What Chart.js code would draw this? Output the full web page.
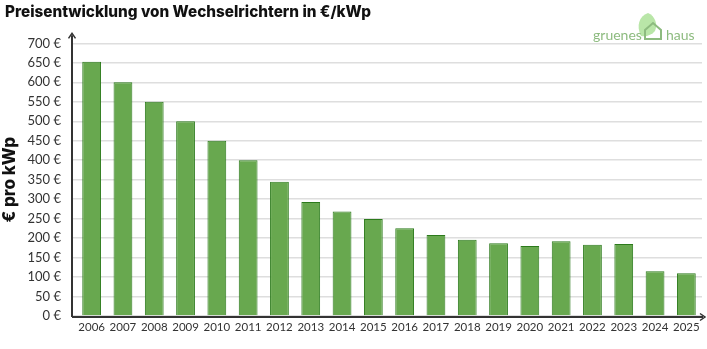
<!DOCTYPE html>
<html>
<head>
<meta charset="utf-8">
<script src="https://cdn.jsdelivr.net/npm/chart.js@4/dist/chart.umd.min.js"></script>
<style>
  html, body { margin: 0; padding: 0; background: #fff; }
  #wrap { width: 707px; height: 349px; }
</style>
</head>
<body>
<div id="wrap"><canvas id="c" width="707" height="349"></canvas></div>
<script>
const years = ['2006','2007','2008','2009','2010','2011','2012','2013','2014','2015',
               '2016','2017','2018','2019','2020','2021','2022','2023','2024','2025'];
const pricePerKwp = [653, 600, 550, 500, 450, 400, 345, 293, 268, 249,
                     225, 208, 196, 187, 180, 192, 183, 185, 115, 110];
const yTicks = [0, 50, 100, 150, 200, 250, 300, 350, 400, 450, 500, 550, 600, 650, 700];

const AXIS = '#333';
const tickFont = { family: 'Lato, "Open Sans", sans-serif', size: 13 };

// axis lines with arrow heads, plus the small logo in the corner
const decor = {
  id: 'decor',
  afterDraw(chart) {
    const ctx = chart.ctx;
    const a = chart.chartArea;
    const x0 = a.left - 4, y0 = a.bottom + 1;
    ctx.save();
    ctx.strokeStyle = AXIS;
    ctx.fillStyle = AXIS;
    ctx.lineWidth = 2;
    ctx.beginPath();
    ctx.moveTo(x0, y0);
    ctx.lineTo(x0, a.top - 8);
    ctx.moveTo(x0, y0);
    ctx.lineTo(a.right + 1, y0);
    ctx.stroke();
    ctx.lineWidth = 1.5;
    ctx.beginPath();
    ctx.moveTo(x0 - 3.5, a.top - 5);
    ctx.lineTo(x0, a.top - 10);
    ctx.lineTo(x0 + 3.5, a.top - 5);
    ctx.moveTo(a.right - 2, y0 - 3.5);
    ctx.lineTo(a.right + 3, y0);
    ctx.lineTo(a.right - 2, y0 + 3.5);
    ctx.stroke();

    // gruenes haus
    const green = '#8dbb7f';
    ctx.fillStyle = '#b9e6a8';
    ctx.beginPath();
    ctx.moveTo(641, 36);
    ctx.bezierCurveTo(636, 26, 639, 16, 648, 13);
    ctx.bezierCurveTo(655, 16, 658, 24, 655, 31);
    ctx.bezierCurveTo(652, 35, 646, 37, 641, 36);
    ctx.fill();
    ctx.strokeStyle = green;
    ctx.lineWidth = 2;
    ctx.beginPath();
    ctx.moveTo(645, 30);
    ctx.lineTo(653, 23);
    ctx.lineTo(661, 30);
    ctx.lineTo(661, 39);
    ctx.lineTo(645, 39);
    ctx.closePath();
    ctx.stroke();
    ctx.fillStyle = green;
    ctx.font = '14px Lato, "Open Sans", sans-serif';
    ctx.textBaseline = 'alphabetic';
    ctx.textAlign = 'left';
    ctx.fillText('gruenes', 593, 40);
    ctx.fillText('haus', 666, 40);
    ctx.restore();
  }
};

new Chart(document.getElementById('c'), {
  type: 'bar',
  data: {
    labels: years,
    datasets: [{
      data: pricePerKwp,
      backgroundColor: '#68a84f',
      borderColor: '#2c7a1c',
      borderWidth: 1,
      categoryPercentage: 1,
      barPercentage: 0.6
    }]
  },
  options: {
    responsive: false,
    animation: false,
    layout: { padding: { left: 5, right: 5, top: 0, bottom: 0 } },
    plugins: {
      legend: { display: false },
      tooltip: { enabled: false },
      title: {
        display: true,
        text: 'Preisentwicklung von Wechselrichtern in €/kWp',
        align: 'start',
        color: '#111',
        font: { family: 'Inter, sans-serif', size: 15.3, weight: 800 },
        padding: { top: 3, bottom: 22 }
      }
    },
    scales: {
      x: {
        grid: { display: false, drawTicks: false, tickLength: 0 },
        border: { display: false },
        ticks: { color: AXIS, font: { family: tickFont.family, size: 11.5 }, padding: 4, maxRotation: 0, autoSkip: false },
        afterFit(s) { s.height = 33; }
      },
      y: {
        min: 0,
        max: 700,
        afterBuildTicks(s) { s.ticks = yTicks.map(v => ({ value: v })); },
        grid: { color: '#dedede', lineWidth: 1.5, tickLength: 4 },
        border: { display: false },
        ticks: { color: AXIS, font: tickFont, padding: 11, callback: v => v + ' €' },
        title: {
          display: true,
          text: '€ pro kWp',
          color: '#111',
          font: { family: 'Inter, sans-serif', size: 17, weight: 800 },
          padding: { top: -5, bottom: 0 }
        },
        afterFit(s) { s.width = 71; }
      }
    }
  },
  plugins: [decor]
});
</script>
</body>
</html>
